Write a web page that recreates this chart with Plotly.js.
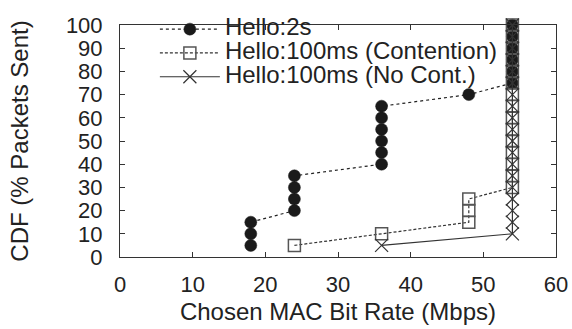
<!DOCTYPE html>
<html>
<head>
<meta charset="utf-8">
<script src="https://cdn.plot.ly/plotly-3.0.1.min.js"></script>
<style>
html,body{margin:0;padding:0;background:#fff;}
#chart{width:572px;height:329px;}
</style>
</head>
<body>
<div id="chart"></div>
<script>
// Hello:2s
const hello2sX = [18, 18, 18, 24, 24, 24, 24, 36, 36, 36, 36, 36, 36, 48, 54, 54, 54, 54, 54, 54];
const hello2sY = [5, 10, 15, 20, 25, 30, 35, 40, 45, 50, 55, 60, 65, 70, 75, 80, 85, 90, 95, 100];
// Hello:100ms (Contention)
const contX = [24, 36, 48, 48, 48, 54, 54, 54, 54, 54, 54, 54, 54, 54, 54, 54, 54, 54, 54, 54];
const contY = [5, 10, 15, 20, 25, 30, 35, 40, 45, 50, 55, 60, 65, 70, 75, 80, 85, 90, 95, 100];
// Hello:100ms (No Cont.)
const noContX = [36, 54, 54, 54, 54, 54, 54, 54, 54, 54, 54, 54, 54, 54, 54, 54, 54, 54, 54, 54];
const noContY = [5, 10, 15, 20, 25, 30, 35, 40, 45, 50, 55, 60, 65, 70, 75, 80, 85, 90, 95, 100];

const seriesNames = ['Hello:2s', 'Hello:100ms (Contention)', 'Hello:100ms (No Cont.)'];
const xTicks = [0, 10, 20, 30, 40, 50, 60];
const yTicks = [0, 10, 20, 30, 40, 50, 60, 70, 80, 90, 100];

const FONT = 'Liberation Sans, Arial, Helvetica, sans-serif';
const BIG = 24;
const TICK = 22;
const legendLabel = s => '<span style="font-size:' + BIG + 'px">' + s + '</span>';

const traces = [
  {
    x: hello2sX, y: hello2sY, name: legendLabel(seriesNames[0]), mode: 'lines+markers', cliponaxis: false,
    line: {color: '#222', width: 1.2, dash: 'dot'},
    marker: {symbol: 'circle', size: 12, color: '#1a1a1a', line: {color: '#1a1a1a', width: 0.5}}
  },
  {
    x: contX, y: contY, name: legendLabel(seriesNames[1]), mode: 'lines+markers', cliponaxis: false,
    line: {color: '#333', width: 1.2, dash: '3px,2px'},
    marker: {symbol: 'square-open', size: 12, color: '#555', line: {color: '#555', width: 1.5}}
  },
  {
    x: noContX, y: noContY, name: legendLabel(seriesNames[2]), mode: 'lines+markers', cliponaxis: false,
    line: {color: '#333', width: 1.2},
    marker: {symbol: 'x-thin-open', size: 13, color: '#333', line: {color: '#333', width: 1.2}}
  }
];

const layout = {
  width: 572, height: 329,
  margin: {l: 120, r: 16, t: 17, b: 72},
  paper_bgcolor: '#fff', plot_bgcolor: '#fff',
  font: {family: FONT, size: BIG, color: '#222'},
  showlegend: true,
  legend: {
    x: 0.08, y: 1.055, xanchor: 'left', yanchor: 'top',
    bgcolor: 'rgba(0,0,0,0)', borderwidth: 0,
    font: {family: FONT, size: 16, color: '#222'},
    tracegroupgap: 0, itemwidth: 60
  },
  xaxis: {
    range: [0, 60], tickvals: xTicks, ticktext: xTicks.map(String),
    ticks: 'inside', ticklen: 5, tickcolor: '#333', tickwidth: 1,
    showline: true, linecolor: '#333', linewidth: 1, mirror: 'ticks',
    showgrid: false, zeroline: false, ticklabelstandoff: 8,
    tickfont: {family: FONT, size: TICK, color: '#222'},
    title: {text: 'Chosen MAC Bit Rate (Mbps)', font: {family: FONT, size: BIG, color: '#222'}, standoff: 6}
  },
  yaxis: {
    range: [0, 100], tickvals: yTicks, ticktext: yTicks.map(String),
    ticks: 'inside', ticklen: 5, tickcolor: '#333', tickwidth: 1,
    showline: true, linecolor: '#333', linewidth: 1, mirror: 'ticks',
    showgrid: false, zeroline: false, ticklabelstandoff: 12,
    tickfont: {family: FONT, size: TICK, color: '#222'},
    title: {text: 'CDF (% Packets Sent)', font: {family: FONT, size: BIG, color: '#222'}, standoff: 30}
  }
};

Plotly.newPlot('chart', traces, layout, {displayModeBar: false, staticPlot: true});
</script>
</body>
</html>
